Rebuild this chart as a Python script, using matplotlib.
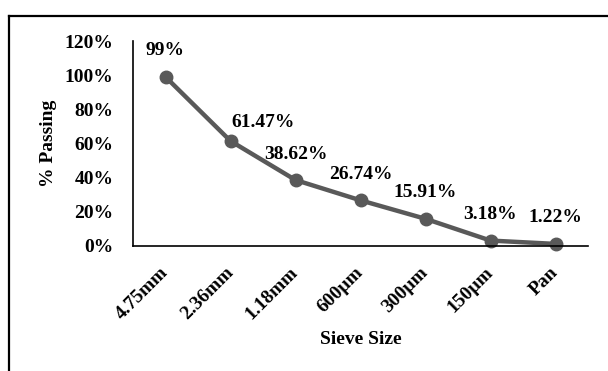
import matplotlib.pyplot as plt
from matplotlib.lines import Line2D

# Sieve analysis results
sieve_sizes = ["4.75mm", "2.36mm", "1.18mm", "600µm", "300µm", "150µm", "Pan"]
percent_passing = [99, 61.47, 38.62, 26.74, 15.91, 3.18, 1.22]
label_texts = ["99%", "61.47%", "38.62%", "26.74%", "15.91%", "3.18%", "1.22%"]

plt.rcParams["font.family"] = ["Liberation Serif", "DejaVu Serif"]
plt.rcParams["font.weight"] = "bold"
FS = 14

fig = plt.figure(figsize=(6.08, 3.71), dpi=100)
ax = fig.add_axes([133 / 608, 1 - 246 / 371, 455 / 608, 205 / 371])

x = list(range(len(sieve_sizes)))
ax.plot(x, percent_passing, color="#595959", lw=3.2, marker="o", ms=9,
        solid_capstyle="round", clip_on=False)

# data labels sit above the points; the second one is nudged right
label_offsets = {1: (33, 18)}
for i, (v, txt) in enumerate(zip(percent_passing, label_texts)):
    dx, dy = label_offsets.get(i, (0, 26))
    ax.annotate(txt, (i, v), xytext=(dx, dy), textcoords="offset pixels",
                ha="center", va="center", fontsize=FS, fontweight="bold")

ax.set_xlim(-0.5, 6.5)
ax.set_ylim(0, 120)
ax.set_yticks(range(0, 121, 20))
ax.set_yticklabels([f"{t}%" for t in range(0, 121, 20)])
ax.set_xticks(x)
ax.set_xticklabels(sieve_sizes, rotation=45, ha="right", va="center",
                   rotation_mode="anchor")
ax.tick_params(axis="y", length=0, pad=14, labelsize=FS)
ax.tick_params(axis="x", length=0, pad=17, labelsize=FS)

for side in ("top", "right"):
    ax.spines[side].set_visible(False)
for side in ("left", "bottom"):
    ax.spines[side].set_linewidth(1.2)
    ax.spines[side].set_color("black")

ax.set_xlabel("Sieve Size", fontsize=FS, fontweight="bold")
ax.set_ylabel("% Passing", fontsize=FS, fontweight="bold")
ax.yaxis.set_label_coords(-0.167, 0.5)
ax.xaxis.set_label_coords(0.5, -0.415)

# chart frame
fx = 8.5 / 608
fy = 1 - 15.5 / 371
fig.add_artist(Line2D([fx, 1.01], [fy, fy], transform=fig.transFigure,
                      color="black", lw=1.6))
fig.add_artist(Line2D([fx, fx], [-0.01, fy], transform=fig.transFigure,
                      color="black", lw=1.6))

fig.savefig("out.png", dpi=100)
